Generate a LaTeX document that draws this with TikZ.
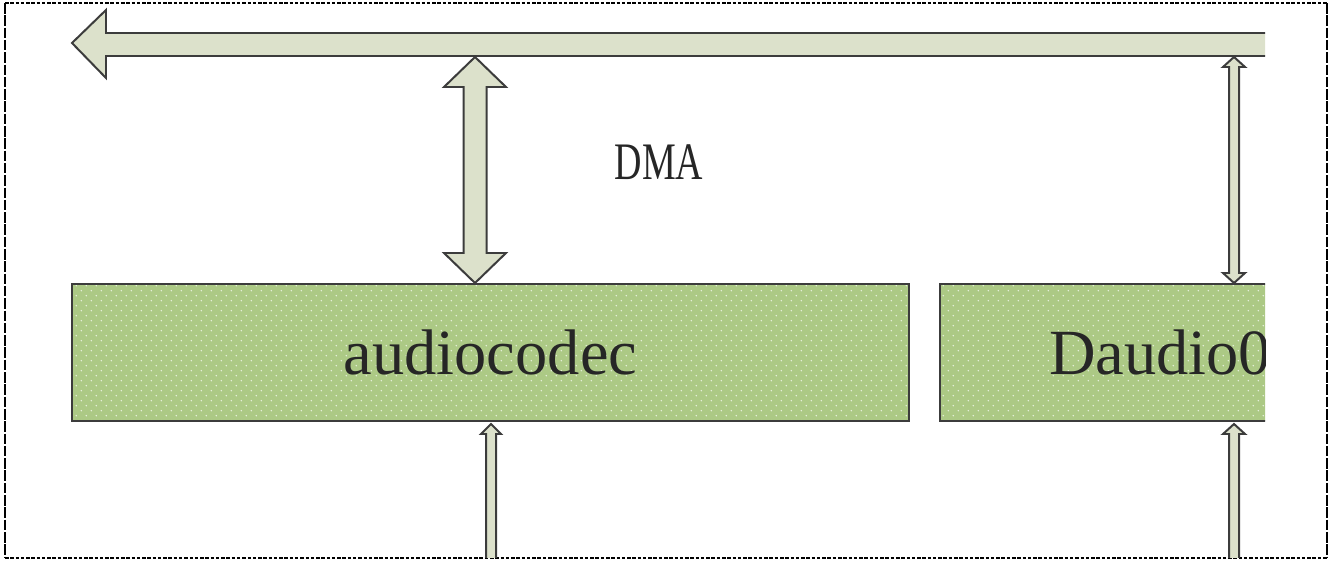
\documentclass[tikz,border=0pt]{standalone}
\usepackage{fontspec}
\setmainfont{Liberation Serif}
\newfontfamily\narrowserif[FakeStretch=0.72]{Liberation Serif}
\usetikzlibrary{calc,patterns.meta}
\definecolor{busFill}{RGB}{220,225,203}
\definecolor{edgeGray}{RGB}{60,60,60}
\definecolor{codecGreen}{RGB}{172,201,133}
\tikzdeclarepattern{name=codecdots,type=uncolored,
  bottom left={(0pt,0pt)},top right={(8.5pt,8.5pt)},tile size={(8.5pt,8.5pt)},
  code={\fill (2pt,2pt) circle (0.7pt); \fill (6.25pt,6.25pt) circle (0.7pt);}}
\newcommand{\FatDouble}[5]{%
\draw[blockarrow] (#1) -- ($(#1)+(#4,#5)$) -- ($(#1)+(#3,#5)$) -- ($(#2)+(#3,-#5)$) -- ($(#2)+(#4,-#5)$) -- (#2)
  -- ($(#2)+(-#4,-#5)$) -- ($(#2)+(-#3,-#5)$) -- ($(#1)+(-#3,#5)$) -- ($(#1)+(-#4,#5)$) -- cycle;}
\newcommand{\FatUp}[5]{%
\draw[blockarrow] (#1) -- ($(#1)+(#4,#5)$) -- ($(#1)+(#3,#5)$) -- ($(#2)+(#3,0)$) -- ($(#2)+(-#3,0)$)
  -- ($(#1)+(-#3,#5)$) -- ($(#1)+(-#4,#5)$) -- cycle;}

\begin{document}
\begin{tikzpicture}[x=0.03cm,y=-0.03cm,
  blockarrow/.style={draw=edgeGray,fill=busFill,line width=1.7pt,line join=miter},
  codecbox/.style={draw=edgeGray,preaction={fill=codecGreen},pattern=codecdots,pattern color=white!75!codecGreen,
    line width=1.7pt,minimum height=4.11cm,inner sep=0pt,text=black!85,font=\fontsize{55}{60}\selectfont}]
\useasboundingbox (0,0) rectangle (1331,562);
\draw[line width=1pt,dash pattern=on 3pt off 1.5pt] (5,3) -- (1327,3) (5,558) -- (1327,558);
\draw[line width=2pt,dash pattern=on 9pt off 1.5pt] (5,3) -- (5,558) (1327,3) -- (1327,558);
\begin{scope}
\clip (0,0) rectangle (1265,557);
\draw[blockarrow] (72,43) -- (106,10) -- (106,33) -- (1300,33) -- (1300,56) -- (106,56) -- (106,78) -- cycle;
\node[codecbox,minimum width=25.11cm] (codec) at (490.5,352.5) {audiocodec};
\node[codecbox,minimum width=13.2cm] (daudio) at (1160,352.5) {Daudio0};
\coordinate (dmatop) at (475,57);
\coordinate (dmabot) at (dmatop |- codec.north);
\coordinate (dtop) at (1234,57);
\coordinate (dbot) at (dtop |- daudio.north);
\coordinate (codecin) at (491,600);
\coordinate (daudioin) at (1234,600);
\FatDouble{dmatop}{dmabot}{11.5}{31}{30}
\FatDouble{dtop}{dbot}{5}{11}{10}
\FatUp{$(codecin |- codec.south)+(0,2)$}{codecin}{5}{10}{10}
\FatUp{$(daudioin |- daudio.south)+(0,2)$}{daudioin}{5}{11}{10}
\end{scope}
\node[text=black!85,font=\narrowserif\fontsize{45}{50}\selectfont] (dma) at (659,162) {DMA};
\end{tikzpicture}
\end{document}
